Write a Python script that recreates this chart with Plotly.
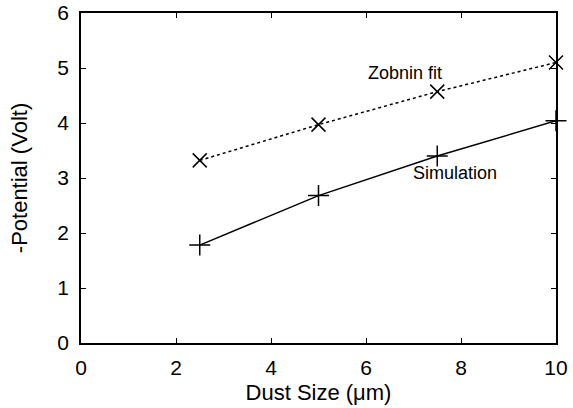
import plotly.graph_objects as go

dust_size = [2.5, 5.0, 7.5, 10.0]
simulation = [1.78, 2.68, 3.40, 4.04]
zobnin_fit = [3.32, 3.97, 4.57, 5.10]
x_ticks = [0, 2, 4, 6, 8, 10]
y_ticks = [0, 1, 2, 3, 4, 5, 6]

FONT = "Liberation Sans, Arial, Helvetica"

fig = go.Figure()
fig.add_trace(go.Scatter(
    x=dust_size, y=zobnin_fit, mode="lines+markers", name="Zobnin fit",
    line=dict(color="black", width=1.5, dash="dot"),
    marker=dict(symbol="x-thin-open", size=14, line=dict(color="black", width=1.5)),
    cliponaxis=False,
))
fig.add_trace(go.Scatter(
    x=dust_size, y=simulation, mode="lines+markers", name="Simulation",
    line=dict(color="black", width=1.5),
    marker=dict(symbol="cross-thin-open", size=15, line=dict(color="black", width=1.5)),
    cliponaxis=False,
))

fig.add_annotation(x=6.82, y=4.91, text="Zobnin fit", showarrow=False,
                   font=dict(family=FONT, size=18, color="black"))
fig.add_annotation(x=7.87, y=3.09, text="Simulation", showarrow=False,
                   font=dict(family=FONT, size=18, color="black"))

axis_common = dict(
    showline=True, linecolor="black", linewidth=1.5, mirror="ticks",
    ticks="inside", ticklen=5, tickwidth=1, tickcolor="black",
    showgrid=False, zeroline=False, automargin=False,
    tickfont=dict(family=FONT, size=21, color="black"),
    title_font=dict(family=FONT, size=22, color="black"),
)

fig.update_xaxes(range=[0, 10], tickvals=x_ticks, title_text="Dust Size (μm)",
                 title_standoff=7, ticklabelstandoff=5, **axis_common)
fig.update_yaxes(range=[0, 6], tickvals=y_ticks, title_text="-Potential (Volt)",
                 title_standoff=24, ticklabelstandoff=6, **axis_common)

fig.update_layout(
    width=573, height=408,
    margin=dict(l=81, r=17, t=13, b=65),
    plot_bgcolor="white", paper_bgcolor="white",
    showlegend=False,
)

fig.write_html("out.html")
